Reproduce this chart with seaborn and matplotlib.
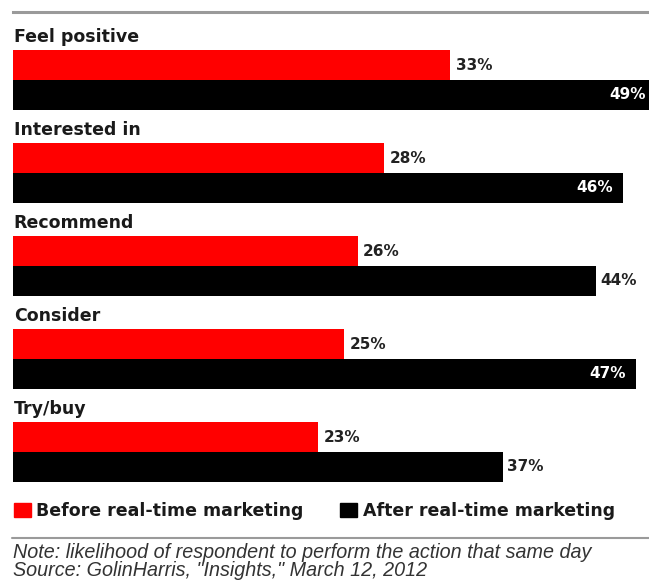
import matplotlib
matplotlib.use("Agg")
import matplotlib.pyplot as plt
from matplotlib.lines import Line2D
import seaborn as sns
import pandas as pd

categories = ["Feel positive", "Interested in", "Recommend", "Consider", "Try/buy"]
before = [33, 28, 26, 25, 23]
after = [49, 46, 44, 47, 37]
series = ["Before real-time marketing", "After real-time marketing"]
note = "Note: likelihood of respondent to perform the action that same day"
source = "Source: GolinHarris, \"Insights,\" March 12, 2012"

# label placement for the "after" bars: inside (white) or outside (black)
after_inside = [True, True, False, True, False]

df = pd.DataFrame({
    "category": categories * 2,
    "series": [series[0]] * len(categories) + [series[1]] * len(categories),
    "value": before + after,
})

sns.set_theme(style="white")
plt.rcParams["font.family"] = ["DejaVu Sans"]

W, H = 649, 583
fig = plt.figure(figsize=(W / 100, H / 100), dpi=100)
top_px, bot_px, left_px = 12, 490, 13
ax = fig.add_axes([left_px / W, 1 - bot_px / H, 1 - left_px / W, (bot_px - top_px) / H])

width = 0.645
sns.barplot(data=df, y="category", x="value", hue="series", orient="h",
            palette={series[0]: "#ff0000", series[1]: "#000000"},
            width=width, dodge=True, saturation=1, ax=ax, legend=False,
            order=categories, hue_order=series, linewidth=0)

pitch = 93.0
xmax = 48
ax.set_ylim((bot_px - 80) / pitch, (top_px - 80) / pitch)
ax.set_xlim(0, xmax)
ax.set_xlabel("")
ax.set_ylabel("")
ax.set_xticks([])
ax.set_yticks([])
for s in ["left", "right", "bottom"]:
    ax.spines[s].set_visible(False)
ax.spines["top"].set_color("#9a9a9a")
ax.spines["top"].set_linewidth(2.2)

lbl_font = dict(fontsize=12.5, fontweight="bold", color="#1a1a1a")
val_font = dict(fontsize=11, fontweight="bold")

for i, cat in enumerate(categories):
    ax.text(0.05, i - width / 2 - 0.04, cat, ha="left", va="bottom", **lbl_font)
    ax.annotate(f"{before[i]}%", (before[i], i - width / 4), xytext=(4, 0),
                textcoords="offset points", ha="left", va="center",
                color="#222222", **val_font)
    if after_inside[i]:
        # anchor at the visible end of the bar
        ax.annotate(f"{after[i]}%", (min(after[i], xmax), i + width / 4), xytext=(-2, 0),
                    textcoords="offset points", ha="right", va="center",
                    color="white", **val_font) if after[i] > xmax else \
        ax.annotate(f"{after[i]}%", (after[i], i + width / 4), xytext=(-7, 0),
                    textcoords="offset points", ha="right", va="center",
                    color="white", **val_font)
    else:
        ax.annotate(f"{after[i]}%", (after[i], i + width / 4), xytext=(3, 0),
                    textcoords="offset points", ha="left", va="center",
                    color="#222222", **val_font)

# legend
leg_y = 1 - 511 / H
handles = [plt.Rectangle((0, 0), 1, 1, color="#ff0000"),
           plt.Rectangle((0, 0), 1, 1, color="#000000")]
leg = fig.legend(handles, series, loc="center left", bbox_to_anchor=(-2 / W, leg_y),
                 ncol=2, frameon=False, handlelength=1.0, handleheight=0.9,
                 handletextpad=0.3, columnspacing=2.1,
                 prop={"size": 12.5, "weight": "bold"})
for t in leg.get_texts():
    t.set_color("#1a1a1a")

fig.add_artist(Line2D([12 / W, 1], [1 - 538 / H, 1 - 538 / H], color="#9a9a9a", lw=1.5))

note_font = dict(fontsize=14.2, fontstyle="italic", color="#333333", family="Liberation Sans")
fig.text(13 / W, 1 - 553 / H, note, ha="left", va="center", **note_font)
fig.text(13 / W, 1 - 571 / H, source, ha="left", va="center", **note_font)

fig.savefig("out.png", dpi=100)
